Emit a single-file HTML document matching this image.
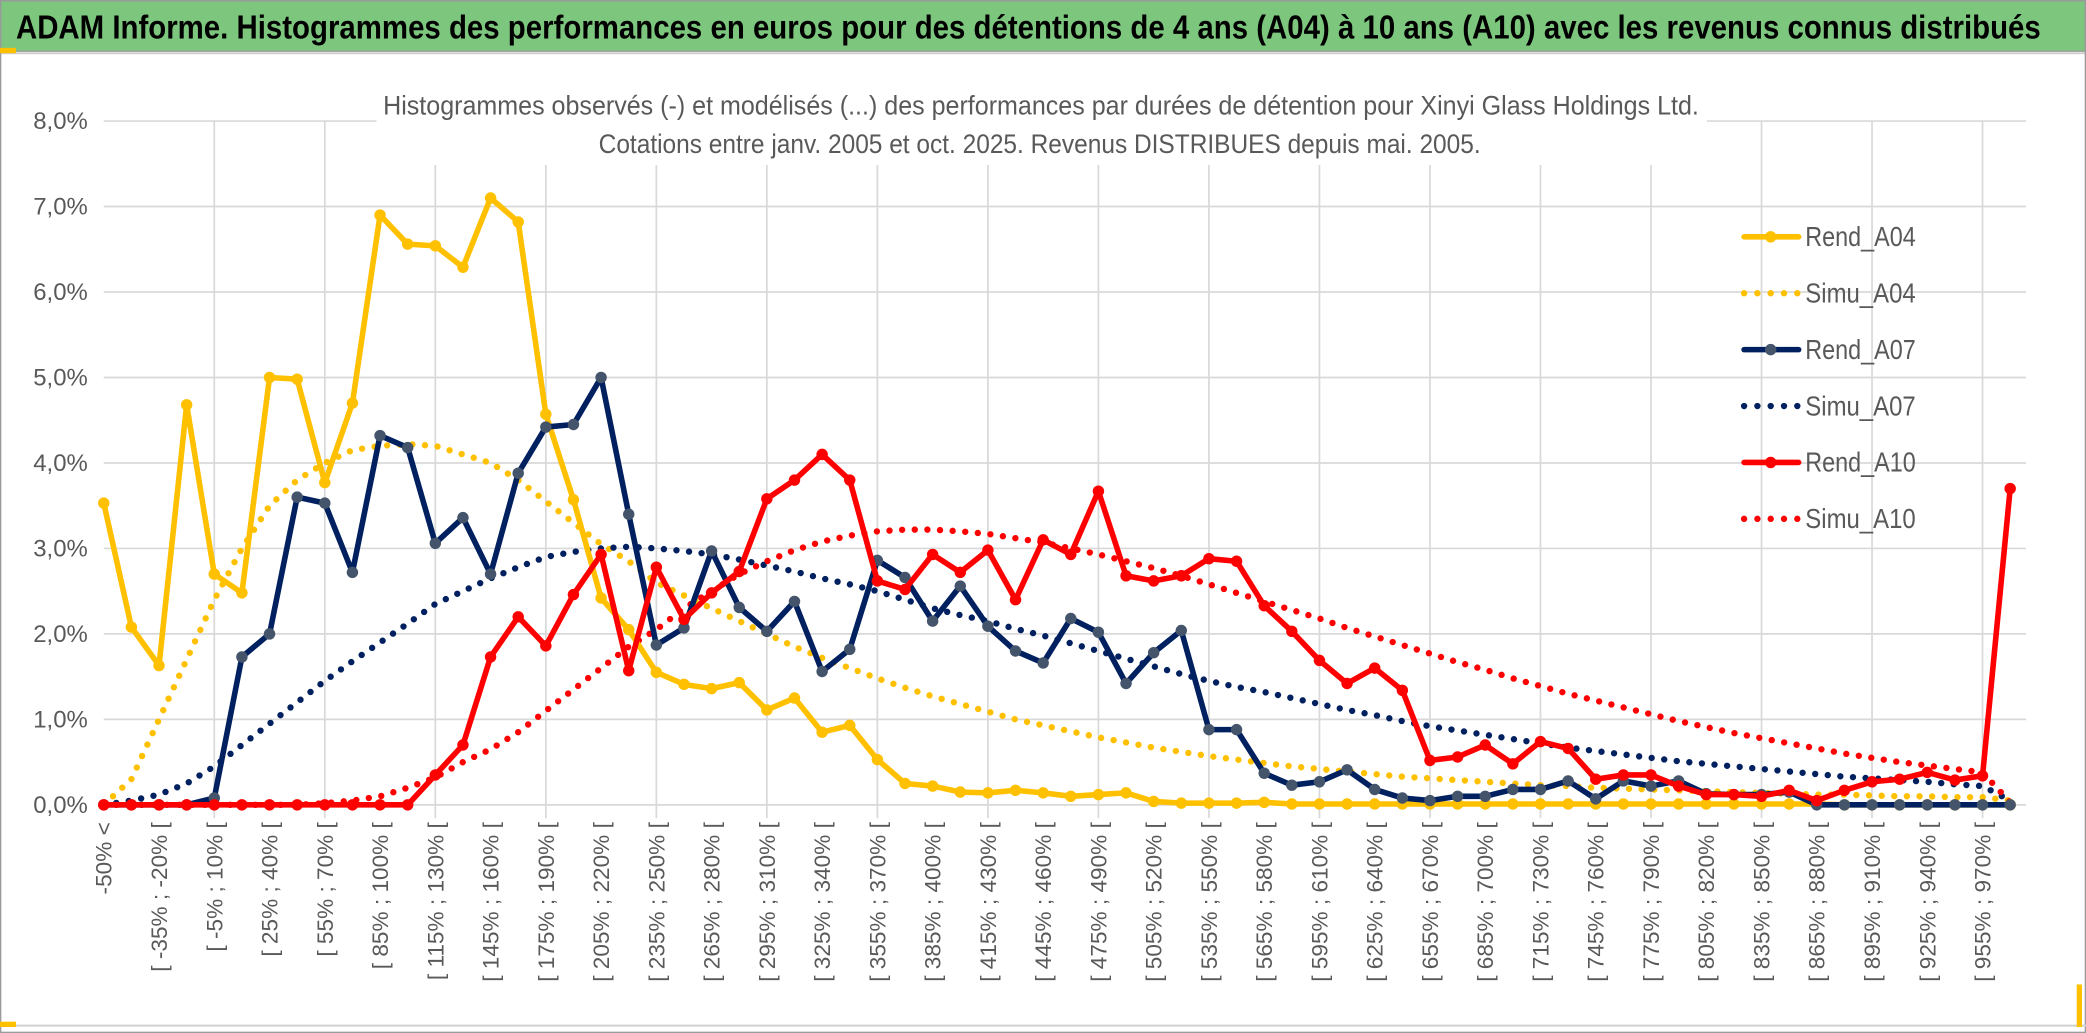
<!DOCTYPE html>
<html><head><meta charset="utf-8">
<style>
html,body{margin:0;padding:0;background:#fff;}
svg{display:block;}
text{font-family:"Liberation Sans Narrow","Liberation Sans",sans-serif;}
</style></head>
<body>
<svg id="chart" width="2086" height="1033" viewBox="0 0 1568 776.5" preserveAspectRatio="none" xmlns="http://www.w3.org/2000/svg">
<rect x="0" y="0" width="1568" height="776.5" fill="#fff"/>
<rect x="0.5" y="0.5" width="1567" height="38" fill="#7DC67E" stroke="#9a9a9a" stroke-width="1"/>
<line x1="0" y1="40" x2="1568" y2="40" stroke="#d0d0d0" stroke-width="1.5"/>
<rect x="0.5" y="0.5" width="1567" height="775.5" fill="none" stroke="#9a9a9a" stroke-width="1"/>
<line x1="0" y1="771" x2="1568" y2="771" stroke="#d0d0d0" stroke-width="1.5"/>
<rect x="0" y="768" width="12" height="4" fill="#FFC000"/>
<rect x="0" y="36" width="12" height="4" fill="#FFC000"/>
<rect x="1561" y="740" width="4" height="32" fill="#FFC000"/>
<text x="12" y="29" font-size="25" font-weight="bold" fill="#000" textLength="1522" lengthAdjust="spacingAndGlyphs">ADAM Informe. Histogrammes des performances en euros pour des détentions de 4 ans (A04) à 10 ans (A10) avec les revenus connus distribués</text>
<g id="grid"></g>
<rect x="283" y="60" width="1000" height="64" fill="#fff"/>
<text x="288" y="86" font-size="20" fill="#595959" textLength="989" lengthAdjust="spacingAndGlyphs">Histogrammes observés (-) et modélisés (...) des performances par durées de détention pour Xinyi Glass Holdings Ltd.</text>
<text x="450" y="115" font-size="20" fill="#595959" textLength="663" lengthAdjust="spacingAndGlyphs">Cotations entre janv. 2005 et oct. 2025. Revenus DISTRIBUES depuis mai. 2005.</text>
<g id="axes"></g><g id="series"></g><g id="legend"></g>
</svg>
<script>
const yTicks=["0,0%","1,0%","2,0%","3,0%","4,0%","5,0%","6,0%","7,0%","8,0%"];
const tickLabels=["-50% <","[ -35% ; -20% [","[ -5% ; 10% [","[ 25% ; 40% [","[ 55% ; 70% [","[ 85% ; 100% [","[ 115% ; 130% [","[ 145% ; 160% [","[ 175% ; 190% [","[ 205% ; 220% [","[ 235% ; 250% [","[ 265% ; 280% [","[ 295% ; 310% [","[ 325% ; 340% [","[ 355% ; 370% [","[ 385% ; 400% [","[ 415% ; 430% [","[ 445% ; 460% [","[ 475% ; 490% [","[ 505% ; 520% [","[ 535% ; 550% [","[ 565% ; 580% [","[ 595% ; 610% [","[ 625% ; 640% [","[ 655% ; 670% [","[ 685% ; 700% [","[ 715% ; 730% [","[ 745% ; 760% [","[ 775% ; 790% [","[ 805% ; 820% [","[ 835% ; 850% [","[ 865% ; 880% [","[ 895% ; 910% [","[ 925% ; 940% [","[ 955% ; 970% ["];
const rendA04=[3.53,2.08,1.63,4.68,2.70,2.48,5.00,4.98,3.77,4.70,6.90,6.56,6.54,6.29,7.10,6.82,4.57,3.57,2.42,2.05,1.55,1.41,1.36,1.43,1.11,1.25,0.85,0.93,0.53,0.25,0.22,0.15,0.14,0.17,0.14,0.10,0.12,0.14,0.04,0.02,0.02,0.02,0.03,0.01,0.01,0.01,0.01,0.01,0.01,0.01,0.01,0.01,0.01,0.01,0.01,0.01,0.01,0.01,0.01,0.01,0.01,0.01,0.01,0,0,0,0,0,0,0];
const simuA04=[0.0,0.3,1.0,1.7,2.4,3.0,3.5,3.8,4.0,4.15,4.2,4.22,4.2,4.1,4.0,3.8,3.55,3.3,3.05,2.85,2.6,2.45,2.3,2.15,2.0,1.85,1.72,1.6,1.48,1.37,1.27,1.18,1.09,1.0,0.93,0.86,0.79,0.73,0.67,0.62,0.57,0.53,0.49,0.45,0.42,0.39,0.36,0.33,0.31,0.29,0.27,0.25,0.23,0.22,0.20,0.19,0.18,0.17,0.16,0.15,0.14,0.13,0.12,0.12,0.11,0.10,0.10,0.09,0.09,0.05];
const rendA07=[0,0,0,0,0.08,1.73,2.0,3.6,3.53,2.72,4.32,4.18,3.06,3.36,2.7,3.88,4.42,4.45,5.0,3.4,1.87,2.07,2.97,2.31,2.03,2.38,1.56,1.82,2.86,2.66,2.15,2.56,2.09,1.8,1.66,2.18,2.02,1.42,1.78,2.04,0.88,0.88,0.37,0.23,0.27,0.41,0.18,0.08,0.05,0.1,0.1,0.18,0.18,0.28,0.07,0.28,0.22,0.28,0.13,0.12,0.12,0.15,0,0,0,0,0,0,0,0];
const simuA07=[0.0,0.05,0.12,0.25,0.45,0.7,0.95,1.2,1.45,1.68,1.9,2.12,2.35,2.5,2.65,2.78,2.9,2.96,3.0,3.02,3.0,2.97,2.93,2.87,2.8,2.73,2.65,2.58,2.5,2.4,2.3,2.22,2.15,2.06,1.98,1.89,1.8,1.71,1.62,1.53,1.45,1.38,1.32,1.25,1.18,1.11,1.05,0.98,0.92,0.87,0.82,0.77,0.72,0.67,0.63,0.59,0.55,0.51,0.48,0.45,0.42,0.39,0.36,0.33,0.31,0.29,0.27,0.24,0.22,0.05];
const rendA10=[0,0,0,0,0,0,0,0,0,0,0,0,0.35,0.7,1.73,2.2,1.86,2.46,2.93,1.57,2.78,2.17,2.48,2.73,3.58,3.8,4.1,3.8,2.62,2.52,2.93,2.72,2.98,2.4,3.1,2.93,3.67,2.68,2.62,2.68,2.88,2.85,2.33,2.03,1.69,1.42,1.6,1.34,0.52,0.56,0.7,0.48,0.74,0.66,0.3,0.35,0.35,0.22,0.12,0.12,0.1,0.17,0.05,0.17,0.27,0.3,0.38,0.29,0.34,3.7];
const simuA10=[0,0,0,0,0,0,0,0,0.02,0.05,0.1,0.2,0.32,0.5,0.65,0.85,1.1,1.35,1.6,1.85,2.05,2.3,2.5,2.7,2.85,2.98,3.08,3.15,3.2,3.22,3.22,3.2,3.17,3.12,3.07,3.0,2.93,2.85,2.77,2.68,2.58,2.48,2.38,2.28,2.18,2.07,1.97,1.87,1.77,1.67,1.58,1.48,1.39,1.30,1.22,1.14,1.06,0.98,0.91,0.84,0.78,0.72,0.66,0.6,0.55,0.5,0.46,0.42,0.38,0.03];

const NS="http://www.w3.org/2000/svg";
const X0=78,X1=1511,Y0=605,Y8=91,N=rendA04.length;
function xS(i){return X0+i*(X1-X0)/(N-1);}
function yS(v){return Y0-v*(Y0-Y8)/8;}
function mk(tag,attrs,parent){const e=document.createElementNS(NS,tag);for(const k in attrs)e.setAttribute(k,attrs[k]);parent.appendChild(e);return e;}
const grid=document.getElementById('grid'),axes=document.getElementById('axes'),ser=document.getElementById('series'),leg=document.getElementById('legend');
yTicks.forEach((t,i)=>{
  const l=mk('line',{x1:X0,x2:X1+12,y1:yS(i),y2:yS(i),stroke:'#d9d9d9','stroke-width':1.3},grid);
  
  
  const tx=mk('text',{x:66,y:yS(i)+6,'text-anchor':'end','font-size':18,fill:'#595959'},axes);
  tx.textContent=t;
  
  
});
for(let i=4;i<N;i+=4){
  const l=mk('line',{x1:xS(i),x2:xS(i),y1:Y8,y2:Y0+10,stroke:'#d9d9d9','stroke-width':1.3},grid);
  
  
}
tickLabels.forEach((t,k)=>{
  const x=xS(k*2)+6,y=618;
  const tx=mk('text',{x:x,y:y,transform:`rotate(-90 ${x} ${y})`,'text-anchor':'end','font-size':17,fill:'#595959','font-family':'"Liberation Sans",sans-serif'},axes);
  tx.textContent=t;
  
  
});
function pts(arr){return arr.map((v,i)=>xS(i)+','+yS(v)).join(' ');}
function dotted(arr,color,name){
  const p=mk('polyline',{points:pts(arr),fill:'none',stroke:color,'stroke-width':4.8,'stroke-linecap':'round','stroke-dasharray':'0 9.5'},ser);
  
  
}
function solid(arr,color,mcol,name){
  const g=mk('g',{},ser);
  
  
  mk('polyline',{points:pts(arr),fill:'none',stroke:color,'stroke-width':4.2,'stroke-linejoin':'round'},g);
  arr.forEach((v,i)=>{
    const c=mk('circle',{cx:xS(i),cy:yS(v),r:4.3,fill:mcol},g);
    
    
  });
}
dotted(simuA04,'#FFC000','simu-a04-line');
dotted(simuA07,'#002060','simu-a07-line');
dotted(simuA10,'#FF0000','simu-a10-line');
solid(rendA04,'#FFC000','#FFC000','rend-a04-line');
solid(rendA07,'#002060','#44546A','rend-a07-line');
solid(rendA10,'#FF0000','#FF0000','rend-a10-line');
const legItems=[["Rend_A04","#FFC000","#FFC000",false],["Simu_A04","#FFC000",null,true],["Rend_A07","#002060","#44546A",false],["Simu_A07","#002060",null,true],["Rend_A10","#FF0000","#FF0000",false],["Simu_A10","#FF0000",null,true]];
legItems.forEach((it,i)=>{
  const y=178+i*42.4;
  const g=mk('g',{},leg);
  
  
  if(it[3]){mk('line',{x1:1311,x2:1352,y1:y,y2:y,stroke:it[1],'stroke-width':4.8,'stroke-linecap':'round','stroke-dasharray':'0 10'},g);}
  else{mk('line',{x1:1311,x2:1352,y1:y,y2:y,stroke:it[1],'stroke-width':4.2,'stroke-linecap':'round'},g);mk('circle',{cx:1331,cy:y,r:4.3,fill:it[2]},g);}
  const tx=mk('text',{x:1357,y:y+7,'font-size':21,fill:'#595959',textLength:83,lengthAdjust:'spacingAndGlyphs'},g);
  tx.textContent=it[0];
});
</script>
</body></html>
